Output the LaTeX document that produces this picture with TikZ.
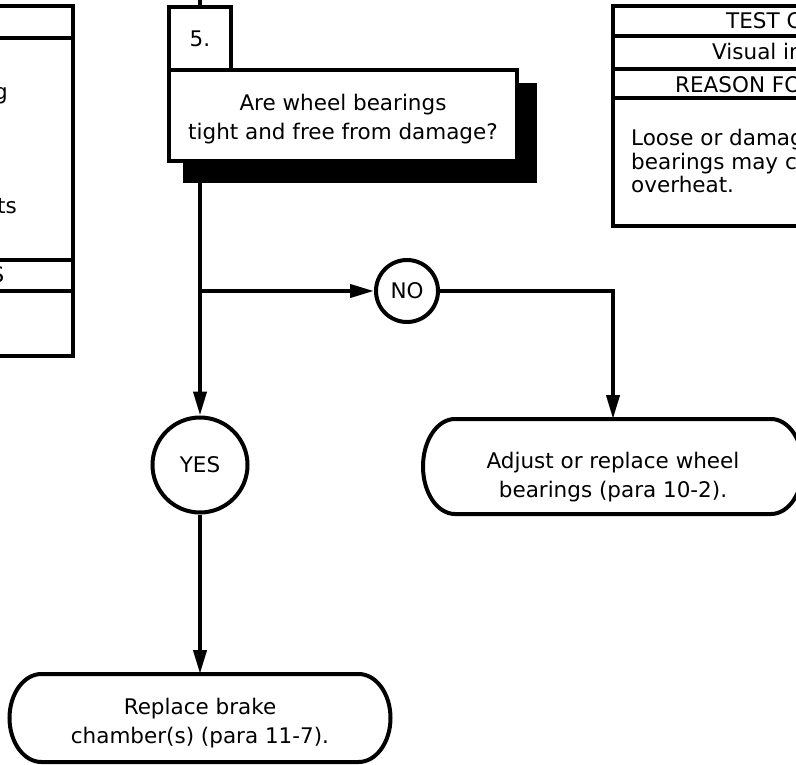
\documentclass[tikz,border=0pt]{standalone}
\usepackage{fontspec}
\setmainfont{DejaVu Sans}
\usetikzlibrary{arrows.meta,backgrounds}

\tikzset{
  base/.style={line width=4pt},
  flow/.style={base, -{Triangle[length=24pt,width=13pt]}},
  cell/.style={inner sep=0pt},
  stepbox/.style={base, draw, fill=white, inner sep=0pt, minimum width=62pt, minimum height=63pt},
  askbox/.style={base, draw, fill=white, inner sep=0pt, minimum width=348pt, minimum height=91pt,
    align=center, text depth=5pt},
  answer/.style={base, draw, circle, fill=white, inner sep=0pt},
  endbox/.style={inner sep=0pt, outer sep=0pt, minimum width=316pt, align=center, text depth=5pt},
}

\begin{document}
\begin{tikzpicture}[x=1pt, y=-1pt, font=\fontsize{21.5}{28.5}\selectfont]
  \useasboundingbox (0,0) rectangle (796,765);
  \clip (0,0) rectangle (796,765);

  % side tables
  \draw[base] (-300,6) rectangle (72.7,356);
  \draw[base] (-300,38) -- (72.7,38);
  \draw[base] (-300,259.5) -- (72.7,259.5) (-300,290.5) -- (72.7,290.5);
  \node[cell, anchor=base east] (lg) at (8,100) {g};
  \node[cell, anchor=base east] (lts) at (17,214) {ts};
  \node[cell, anchor=base east] (ls) at (4.5,283) {S};

  \draw[base] (613,6) rectangle (1000,226);
  \draw[base] (613,36.5) -- (1000,36.5) (613,68.7) -- (1000,68.7) (613,98) -- (1000,98);
  \node[cell, anchor=base west] (rt1) at (726,29) {TEST C};
  \node[cell, anchor=base west] (rt2) at (712,60) {Visual in};
  \node[cell, anchor=base west] (rt3) at (675,93) {REASON FO};
  \node[cell, anchor=base west] (rb1) at (631,146) {Loose or damag};
  \node[cell, anchor=base west] (rb2) at (631,169.5) {bearings may c};
  \node[cell, anchor=base west] (rb3) at (631,193) {overheat.};

  % step 5
  \node[stepbox] (n5) at (200,38.5) {5.};
  \node[askbox, text height=53pt] (q5) at (343,115.5) {Are wheel bearings\\tight and free from damage?};
  \begin{scope}[on background layer]
    \fill ([shift={(16,15)}]q5.north west) rectangle ([shift={(18,20)}]q5.south east);
  \end{scope}

  \node[answer, minimum size=62pt] (no) at (407,291) {NO};
  \node[answer, minimum size=95pt] (yes) at (200,465) {YES};
  \node[endbox, minimum height=95pt, text height=66pt] (fix) at (613,466.5) {Adjust or replace wheel\\bearings (para 10-2).};
  \node[endbox, minimum height=88pt, minimum width=317pt, text height=55pt] (brake) at (200,718) {Replace brake\\chamber(s) (para 11-7).};

  \foreach \b/\r in {fix/47.5, brake/44}
    \draw[base] (\b.north west) -- (\b.north east)
      arc[start angle=90, end angle=-90, x radius=32pt, y radius=\r pt]
      -- (\b.south west)
      arc[start angle=270, end angle=90, x radius=32pt, y radius=\r pt] -- cycle;

  \coordinate (entry) at (200,-20);
  \coordinate (split) at (n5 |- no);
  \draw[base] (entry) -- (n5);
  \draw[flow] (n5 |- q5.south) -- (yes);
  \draw[flow] (split) -- (no);
  \draw[flow] (no) -| (fix);
  \draw[flow] (yes) -- (brake);
\end{tikzpicture}
\end{document}
